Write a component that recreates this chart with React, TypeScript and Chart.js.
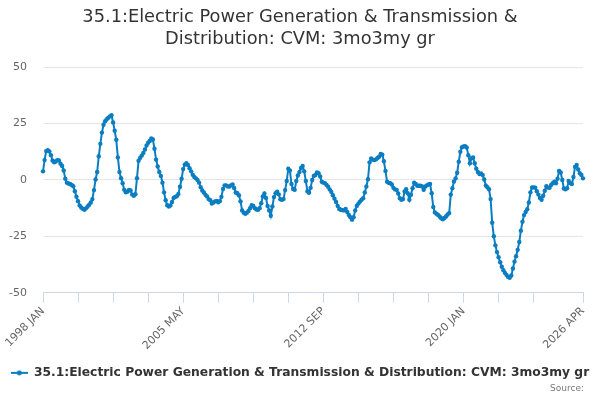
import React, { useEffect, useRef } from "react";
import { Chart, registerables } from "chart.js";

Chart.register(...registerables);

const TITLE_LINES = ["35.1:Electric Power Generation & Transmission &", "Distribution: CVM: 3mo3my gr"];
const SERIES_NAME = "35.1:Electric Power Generation & Transmission & Distribution: CVM: 3mo3my gr";
const SOURCE_TEXT = "Source:";

const START_YEAR = 1998;
const MONTHS = ["JAN", "FEB", "MAR", "APR", "MAY", "JUN", "JUL", "AUG", "SEP", "OCT", "NOV", "DEC"];

// monthly values, one row per year (1998 JAN .. 2026 APR)
const VALUES = [
  3.8, 8.8, 12.8, 13.2, 12.6, 11, 8.6, 7.8, 8.2, 8.8, 8.6, 7.2,
  6.2, 4.2, 0.5, -1.2, -1.6, -1.8, -2.2, -2.8, -5, -7.4, -9.4, -11.3,
  -12.2, -12.8, -13.2, -12.6, -11.8, -11, -10, -8.5, -4.5, 0.2, 3.5, 10.5,
  16, 21, 24.5, 26, 26.9, 27.6, 28.2, 28.7, 25.5, 21.8, 17.8, 10,
  3.5, 0.8, -1.5, -4.4, -5.5, -5.2, -4.4, -4.7, -6.5, -7, -6.3, 0.8,
  8.5, 9.8, 10.8, 12, 13.5, 15.3, 16.5, 17.3, 18.4, 17.9, 13.8, 9,
  6, 3.5, 1.8, -1.2, -5.5, -9, -11.2, -11.8, -11.3, -9.8, -8, -7.5,
  -7.2, -6.2, -3, 0.5, 4.8, 6.8, 7.4, 6.6, 5.2, 3.8, 2.3, 1.3,
  0.7, 0, -1.2, -3.2, -4.7, -5.6, -6.6, -7.3, -8.5, -9, -10.5, -10,
  -9.5, -9.3, -9.9, -9.4, -7.5, -4, -2.4, -2.4, -2.9, -2.9, -2.4, -2,
  -3.6, -5.6, -5.9, -6.8, -9.5, -13.5, -14.5, -15, -14.5, -13.8, -12.5, -11.2,
  -11.5, -12.5, -13.1, -13.2, -12.5, -10.3, -7.3, -6, -8, -11.5, -13.5, -15.9,
  -11.8, -7.6, -5.9, -5.2, -6.4, -8.6, -8.8, -8.5, -4.5, -0.5, 5, 4.2,
  -1.8, -4, -4.4, -0.5, 2, 3.5, 5.3, 6.2, 3.8, -0.5, -5, -5.7,
  -3.5, 0, 1.8, 2.2, 3.3, 3, 1.5, -0.8, -1.2, -1.4, -2.2, -3,
  -4.2, -5.3, -6.8, -8.3, -9.8, -11.5, -12.9, -13.2, -13.4, -13.5, -12.9, -14.2,
  -15.5, -16.5, -17.6, -16.5, -13.5, -11.5, -10.5, -9.6, -8.8, -8.1, -5.6, -2.9,
  0.3, 7.8, 9.5, 9, 8.8, 9.1, 9.7, 10.3, 11.5, 11.2, 8.3, 4,
  -0.8, -1.3, -1.5, -2, -3.5, -4.2, -4.4, -6, -8.1, -8.8, -8.5, -5.1,
  -4.1, -5.9, -8.8, -6.6, -3.7, -1.2, -1.8, -2.6, -2.6, -2.6, -2.9, -4.4,
  -2.9, -2.4, -2, -1.8, -5.9, -12, -14.4, -15, -15.5, -16.2, -17, -17.4,
  -16.9, -16.2, -15.3, -14.7, -6.5, -3.7, -0.7, 0.7, 3.2, 8.1, 12.5, 14.5,
  14.8, 15, 14.4, 11, 7.4, 9.6, 10, 7.4, 5, 3.5, 2.6, 2.9,
  2.2, 0.2, -2.5, -3.2, -4.1, -8.5, -19, -25, -29, -32, -34.3, -36.5,
  -38.5, -40, -41.2, -42.1, -43, -43.4, -42.4, -39.3, -36.2, -33.8, -31, -27.5,
  -22.5, -18.5, -15.6, -14.2, -13, -10, -5.5, -3.3, -3.3, -3.4, -5, -6.5,
  -8, -8.8, -7, -4.8, -2.8, -3.4, -3.5, -2.2, -1.5, -0.8, -1.5, 0.5,
  4, 3.3, 0, -3.8, -4.1, -3.7, -0.5, -1.4, -1.8, 1.3, 5.8, 6.6,
  4.6, 3, 2.2, 0.7,
];

const CATEGORIES = VALUES.map(
  (_, i) => `${START_YEAR + Math.floor(i / 12)} ${MONTHS[i % 12]}`
);

const LABELED_TICKS = ["1998 JAN", "2005 MAY", "2012 SEP", "2020 JAN", "2026 APR"];
const TICK_STEP = 22;
const Y_MIN = -50;
const Y_MAX = 50;
const Y_STEP = 25;

const LINE_COLOR = "#0b7dc1";
const FONT = "'DejaVu Sans', sans-serif";

function isTickMark(i: number): boolean {
  const last = CATEGORIES.length - 1;
  if (i === last) return true;
  return i % TICK_STEP === 0 && i < last - 15;
}

export default function App() {
  const ref = useRef<HTMLCanvasElement | null>(null);

  useEffect(() => {
    document.body.style.margin = "0";
    const canvas = ref.current;
    if (!canvas) return;

    const icon = document.createElement("canvas");
    icon.width = 17;
    icon.height = 10;
    const ic = icon.getContext("2d");
    if (ic) {
      ic.strokeStyle = LINE_COLOR;
      ic.lineWidth = 2;
      ic.beginPath();
      ic.moveTo(0, 5);
      ic.lineTo(17, 5);
      ic.stroke();
      ic.fillStyle = LINE_COLOR;
      ic.beginPath();
      ic.arc(8.5, 5, 2.5, 0, Math.PI * 2);
      ic.fill();
    }

    const sourcePlugin = {
      id: "sourceText",
      afterDraw(chart: any) {
        const c = chart.ctx;
        c.save();
        c.font = `9px ${FONT}`;
        c.fillStyle = "#777";
        c.textAlign = "right";
        c.textBaseline = "middle";
        c.fillText(SOURCE_TEXT, 584, 389);
        c.restore();
      },
    };

    const chart = new Chart(canvas, {
      type: "line",
      data: {
        labels: CATEGORIES,
        datasets: [
          {
            label: SERIES_NAME,
            data: VALUES,
            borderColor: LINE_COLOR,
            backgroundColor: LINE_COLOR,
            borderWidth: 2,
            pointRadius: 2.2,
            pointBorderWidth: 0,
            pointBackgroundColor: LINE_COLOR,
            tension: 0,
          },
        ],
      },
      options: {
        responsive: false,
        animation: false,
        layout: { padding: { left: 0, right: 0, top: 0, bottom: 11 } },
        plugins: {
          title: {
            display: true,
            text: TITLE_LINES,
            color: "#333",
            font: { family: FONT, size: 17.8, weight: "normal", lineHeight: 1.213 },
            padding: { top: 7, bottom: 17 },
          },
          legend: {
            position: "bottom",
            labels: {
              usePointStyle: true,
              pointStyle: icon as any,
              pointStyleWidth: 17,
              color: "#333",
              font: { family: FONT, size: 12.3, weight: "bold" },
              padding: 10,
            },
          },
          tooltip: { enabled: false },
        },
        scales: {
          x: {
            type: "category",
            offset: false,
            afterFit: (s: any) => {
              s.height = 64;
              s.paddingRight = 17;
            },
            grid: {
              drawOnChartArea: false,
              drawTicks: true,
              tickLength: 10,
              color: (ctx: any) => (isTickMark(ctx.index) ? "#ccd6eb" : "rgba(0,0,0,0)"),
              tickColor: (ctx: any) => (isTickMark(ctx.index) ? "#ccd6eb" : "rgba(0,0,0,0)"),
            },
            border: { display: true, color: "#ccd6eb", width: 1 },
            ticks: {
              autoSkip: false,
              maxRotation: 45,
              minRotation: 45,
              color: "#666",
              font: { family: FONT, size: 11 },
              padding: 2,
              callback: (_v: any, i: number) =>
                LABELED_TICKS.includes(CATEGORIES[i]) ? CATEGORIES[i] : "",
            },
          },
          y: {
            min: Y_MIN,
            max: Y_MAX,
            afterFit: (s: any) => {
              s.width = 43;
            },
            grid: { color: "#e6e6e6", drawTicks: false, lineWidth: 1 },
            border: { display: false },
            ticks: {
              stepSize: Y_STEP,
              color: "#666",
              font: { family: FONT, size: 11 },
              padding: 16,
            },
          },
        },
      },
      plugins: [sourcePlugin],
    });

    return () => chart.destroy();
  }, []);

  return (
    <div style={{ width: 600, height: 400 }}>
      <canvas ref={ref} width={600} height={400} style={{ display: "block" }} />
    </div>
  );
}
